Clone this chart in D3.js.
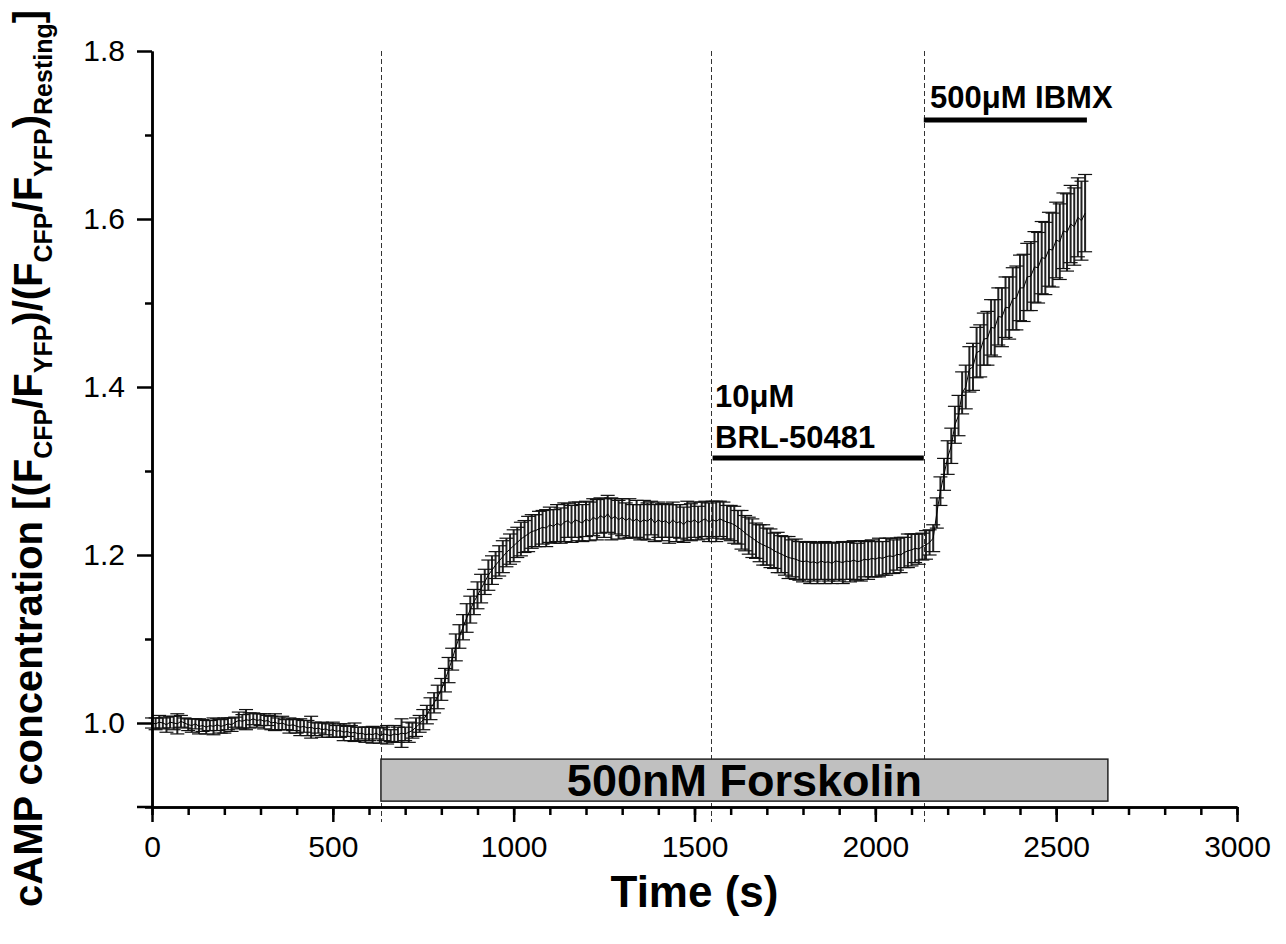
<!DOCTYPE html>
<html>
<head>
<meta charset="utf-8">
<script src="https://cdn.jsdelivr.net/npm/d3@7"></script>
<style>
    body { margin: 0; background: #fff; }
    text { font-family: "Liberation Sans", Arial, sans-serif; }
</style>
</head>
<body>
<script>
// sampling: one frame every 10 s, starting at 0 s
var sampleStep = 10;

// mean ratio (10 values per row = 100 s)
var meanRatio = [
    1.000,0.999,1.001,1.000,0.998,1.001,1.000,0.999,1.002,1.000,
    0.998,0.997,0.999,0.996,0.997,0.995,0.997,0.996,0.998,0.996,
    0.997,0.999,0.998,1.001,1.003,1.002,1.004,1.003,1.005,1.003,
    1.004,1.002,1.003,1.000,1.001,0.999,1.000,0.998,0.997,0.998,
    0.996,0.995,0.996,0.994,0.995,0.993,0.994,0.992,0.993,0.991,
    0.992,0.990,0.991,0.989,0.990,0.988,0.989,0.987,0.988,0.986,
    0.987,0.986,0.988,0.985,0.987,0.986,0.985,0.987,0.986,0.988,
    0.987,0.989,0.991,0.995,0.999,1.004,1.010,1.017,1.024,1.031,
    1.040,1.051,1.063,1.076,1.090,1.103,1.114,1.125,1.135,1.144,
    1.152,1.160,1.168,1.176,1.182,1.188,1.193,1.198,1.203,1.207,
    1.211,1.215,1.219,1.222,1.225,1.228,1.229,1.231,1.233,1.232,
    1.236,1.234,1.238,1.235,1.239,1.241,1.237,1.242,1.240,1.238,
    1.243,1.240,1.245,1.242,1.247,1.244,1.249,1.243,1.246,1.242,
    1.245,1.241,1.244,1.240,1.243,1.239,1.242,1.240,1.244,1.238,
    1.242,1.239,1.241,1.237,1.242,1.238,1.240,1.236,1.241,1.239,
    1.242,1.238,1.241,1.243,1.239,1.242,1.240,1.243,1.241,1.239,
    1.238,1.236,1.233,1.230,1.226,1.223,1.220,1.217,1.214,1.212,
    1.210,1.208,1.205,1.203,1.201,1.199,1.197,1.196,1.195,1.193,
    1.192,1.193,1.191,1.192,1.190,1.193,1.191,1.192,1.190,1.193,
    1.192,1.191,1.193,1.192,1.194,1.192,1.193,1.195,1.194,1.196,
    1.195,1.197,1.196,1.198,1.199,1.198,1.201,1.200,1.203,1.205,
    1.206,1.208,1.207,1.210,1.212,1.215,1.220,1.250,1.276,1.296,
    1.316,1.330,1.355,1.366,1.393,1.400,1.421,1.424,1.441,1.443,
    1.457,1.458,1.471,1.470,1.484,1.483,1.495,1.494,1.505,1.506,
    1.518,1.518,1.531,1.532,1.543,1.542,1.554,1.553,1.564,1.563,
    1.575,1.573,1.586,1.584,1.594,1.591,1.602,1.598,1.607
];

// SEM of the ratio, same frames
var semRatio = [
    .006,.007,.008,.006,.009,.007,.008,.012,.007,.006,
    .007,.008,.006,.009,.007,.008,.006,.010,.007,.008,
    .009,.007,.008,.006,.010,.008,.012,.009,.007,.008,
    .007,.009,.006,.008,.010,.007,.008,.006,.009,.007,
    .008,.010,.007,.009,.013,.008,.006,.009,.007,.008,
    .009,.007,.008,.010,.006,.009,.011,.008,.007,.009,
    .008,.010,.007,.009,.008,.011,.007,.010,.009,.017,
    .008,.012,.009,.011,.010,.012,.011,.013,.012,.014,
    .013,.014,.015,.013,.016,.014,.015,.017,.016,.015,
    .016,.017,.015,.018,.017,.016,.018,.019,.017,.018,
    .019,.018,.020,.019,.021,.020,.019,.021,.020,.022,
    .021,.020,.022,.021,.023,.020,.022,.021,.023,.022,
    .021,.023,.022,.024,.021,.023,.022,.025,.021,.023,
    .022,.021,.023,.020,.022,.021,.023,.022,.020,.022,
    .021,.022,.020,.023,.021,.022,.020,.021,.023,.022,
    .021,.020,.022,.021,.023,.022,.024,.021,.022,.020,
    .021,.022,.020,.023,.021,.022,.023,.021,.022,.024,
    .022,.023,.021,.024,.022,.023,.025,.022,.024,.023,
    .024,.022,.025,.023,.024,.022,.025,.023,.024,.022,
    .023,.025,.022,.024,.023,.022,.024,.021,.023,.022,
    .021,.023,.020,.022,.021,.020,.019,.021,.018,.020,
    .019,.017,.018,.016,.017,.015,.016,.018,.017,.019,
    .020,.021,.022,.024,.025,.026,.027,.028,.030,.031,
    .031,.032,.033,.034,.034,.035,.036,.037,.037,.038,
    .039,.040,.040,.041,.042,.042,.043,.043,.044,.044,
    .045,.045,.045,.046,.046,.046,.047,.047,.046
];

var xMajorTicks = [0, 500, 1000, 1500, 2000, 2500, 3000];
var xMinorTicks = d3.range(0, 3001, 100);
var yMajorTicks = [1.0, 1.2, 1.4, 1.6, 1.8];
var yMinorTicks = [0.9, 1.1, 1.3, 1.5, 1.7];

// times (s) at which drugs were added
var additionTimes = [633, 1545, 2134];
var forskolinSpan = [633, 2643];
var brlSpan = [1550, 2134];
var ibmxSpan = [2134, 2585];

var data = meanRatio.map(function(m, i) {
    return { t: i * sampleStep, mean: m, sem: semRatio[i] };
});

var width = 1286, height = 944;

var svg = d3.select("body").append("svg")
    .attr("width", width)
    .attr("height", height);

var x = d3.scaleLinear().domain([0, 3000]).range([152, 1237]);
var y = d3.scaleLinear().domain([0.9, 1.8]).range([807, 51]);

/* dashed lines where drugs go in */
svg.selectAll(".addline")
    .data(additionTimes)
    .enter().append("line")
    .attr("class", "addline")
    .attr("x1", function(d) { return Math.round(x(d)) + 0.5; })
    .attr("x2", function(d) { return Math.round(x(d)) + 0.5; })
    .attr("y1", y(1.8))
    .attr("y2", y(0.9) + 15)
    .attr("stroke", "#333")
    .attr("stroke-width", 1)
    .attr("stroke-dasharray", "5,3");

/* forskolin box */
svg.append("rect")
    .attr("x", x(forskolinSpan[0]))
    .attr("y", y(0.957))
    .attr("width", x(forskolinSpan[1]) - x(forskolinSpan[0]))
    .attr("height", y(0.907) - y(0.957))
    .attr("fill", "#c0c0c0")
    .attr("stroke", "#222")
    .attr("stroke-width", 1.5);

svg.append("text")
    .attr("x", (x(forskolinSpan[0]) + x(forskolinSpan[1])) / 2)
    .attr("y", 796)
    .attr("text-anchor", "middle")
    .attr("font-size", 45)
    .attr("font-weight", "bold")
    .text("500nM Forskolin");

/* drug bars */
svg.append("line")
    .attr("x1", x(brlSpan[0])).attr("x2", x(brlSpan[1]))
    .attr("y1", 458).attr("y2", 458)
    .attr("stroke", "#000").attr("stroke-width", 5);

svg.append("text")
    .attr("x", 715).attr("y", 407)
    .attr("font-size", 31).attr("font-weight", "bold")
    .text("10\u03bcM");
svg.append("text")
    .attr("x", 715).attr("y", 448)
    .attr("font-size", 31).attr("font-weight", "bold")
    .text("BRL-50481");

svg.append("line")
    .attr("x1", x(ibmxSpan[0])).attr("x2", x(ibmxSpan[1]))
    .attr("y1", 120).attr("y2", 120)
    .attr("stroke", "#000").attr("stroke-width", 5);

svg.append("text")
    .attr("x", 930).attr("y", 108)
    .attr("font-size", 31).attr("font-weight", "bold")
    .text("500\u03bcM IBMX");

/* error bars */
var bars = svg.append("g").attr("class", "errbars");
var capW = 7;

bars.selectAll(".ev")
    .data(data)
    .enter().append("line")
    .attr("x1", function(d) { return x(d.t); })
    .attr("x2", function(d) { return x(d.t); })
    .attr("y1", function(d) { return y(d.mean + d.sem); })
    .attr("y2", function(d) { return y(d.mean - d.sem); })
    .attr("stroke", "#222")
    .attr("stroke-width", 2);

bars.selectAll(".ctop")
    .data(data)
    .enter().append("line")
    .attr("x1", function(d) { return x(d.t) - capW; })
    .attr("x2", function(d) { return x(d.t) + capW; })
    .attr("y1", function(d) { return y(d.mean + d.sem); })
    .attr("y2", function(d) { return y(d.mean + d.sem); })
    .attr("stroke", "#111")
    .attr("stroke-width", 1.2);

bars.selectAll(".cbot")
    .data(data)
    .enter().append("line")
    .attr("x1", function(d) { return x(d.t) - capW; })
    .attr("x2", function(d) { return x(d.t) + capW; })
    .attr("y1", function(d) { return y(d.mean - d.sem); })
    .attr("y2", function(d) { return y(d.mean - d.sem); })
    .attr("stroke", "#111")
    .attr("stroke-width", 1.2);

var line = d3.line()
    .x(function(d) { return x(d.t); })
    .y(function(d) { return y(d.mean); });

svg.append("path")
    .datum(data)
    .attr("d", line)
    .attr("fill", "none")
    .attr("stroke", "#000")
    .attr("stroke-width", 1);

/* axes */
var xMinorAxis = d3.axisBottom(x).tickValues(xMinorTicks).tickSize(8).tickSizeOuter(0).tickFormat("");
var xAxis = d3.axisBottom(x).tickValues(xMajorTicks).tickSize(15).tickSizeOuter(0).tickPadding(14)
    .tickFormat(d3.format("d"));
var yMinorAxis = d3.axisLeft(y).tickValues(yMinorTicks).tickSize(7).tickSizeOuter(0).tickFormat("");
var yAxis = d3.axisLeft(y).tickValues(yMajorTicks).tickSize(15).tickSizeOuter(0).tickPadding(12)
    .tickFormat(d3.format(".1f"));

function styleAxis(g) {
    g.selectAll("path, line").attr("stroke", "#000").attr("stroke-width", 2.5);
    g.selectAll("text")
        .attr("fill", "#000")
        .style("font-family", "'Liberation Sans', Arial, sans-serif")
        .style("font-size", "30px");
}

svg.append("g").attr("transform", "translate(0,807)").call(xMinorAxis).call(styleAxis);
svg.append("g").attr("transform", "translate(0,807)").call(xAxis).call(styleAxis);
svg.append("g").attr("transform", "translate(152,0)").call(yMinorAxis).call(styleAxis);
svg.append("g").attr("transform", "translate(152,0)").call(yAxis).call(styleAxis);

// the 0.9 tick is drawn long like in the original
svg.append("line")
    .attr("x1", 137).attr("x2", 152)
    .attr("y1", y(0.9)).attr("y2", y(0.9))
    .attr("stroke", "#000").attr("stroke-width", 2.5);

/* axis titles */
svg.append("text")
    .attr("x", (x(0) + x(3000)) / 2)
    .attr("y", 907)
    .attr("text-anchor", "middle")
    .attr("font-size", 44)
    .attr("font-weight", "bold")
    .text("Time (s)");

var yTitle = svg.append("text")
    .attr("transform", "translate(42,907) rotate(-90)")
    .attr("font-size", 40)
    .attr("font-weight", "bold");

var parts = [
    ["cAMP concentration [(F", 0], ["CFP", 1], ["/F", 0], ["YFP", 1],
    [")/(F", 0], ["CFP", 1], ["/F", 0], ["YFP", 1], [")", 0], ["Resting", 1], ["]", 0]
];
var shift = 0;
parts.forEach(function(p) {
    var dy = p[1] ? 10 - shift : -shift;
    shift = p[1] ? 10 : 0;
    var ts = yTitle.append("tspan").attr("dy", dy).text(p[0]);
    if (p[1]) ts.attr("font-size", 25);
});
</script>
</body>
</html>
